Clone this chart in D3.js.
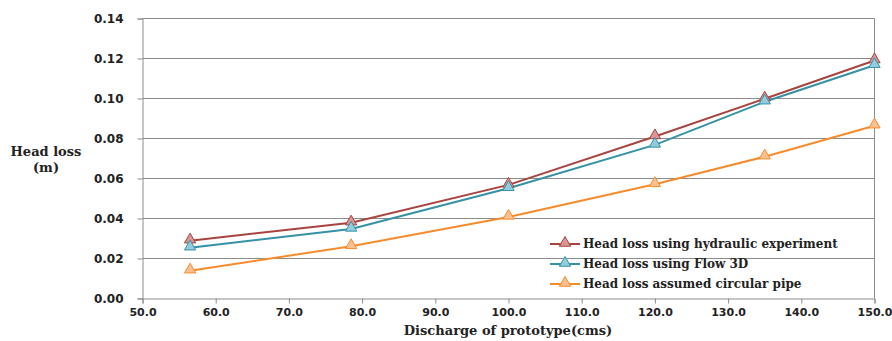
<!DOCTYPE html>
<html><head><meta charset="utf-8">
<script src="https://cdn.jsdelivr.net/npm/d3@7"></script>
<style>body{margin:0;background:#fff}svg{display:block}</style>
</head><body>
<svg id="c" width="892" height="341"></svg>
<script>
const discharge = [56.5, 78.5, 100.0, 120.0, 135.0, 150.0];
const hydraulic = [0.0289, 0.0379, 0.0568, 0.0810, 0.0999, 0.1190];
const flow3d = [0.0254, 0.0348, 0.0551, 0.0768, 0.0984, 0.1166];
const circular = [0.0139, 0.0261, 0.0408, 0.0571, 0.0709, 0.0864];
const seriesNames = ["Head loss using hydraulic experiment", "Head loss using Flow 3D", "Head loss assumed circular pipe"];
const xTicks = [50,60,70,80,90,100,110,120,130,140,150];
const yTicks = [0,0.02,0.04,0.06,0.08,0.10,0.12,0.14];

const series = [
  {name: seriesNames[0], values: hydraulic, line: "#A8433F", fill: "#D99694", stroke: "#A8433F"},
  {name: seriesNames[1], values: flow3d, line: "#3591A6", fill: "#93CDDD", stroke: "#3591A6"},
  {name: seriesNames[2], values: circular, line: "#F78B2C", fill: "#FAC08F", stroke: "#F78B2C"}
];

const svg = d3.select("#c");
const L = 142.5, R = 874.5, T = 18.5, B = 298.5;
const x = d3.scaleLinear().domain([50,150]).range([L,R]);
const y = d3.scaleLinear().domain([0,0.14]).range([B,T]);

svg.append("g").selectAll("line").data(yTicks.filter(d=>d>0)).join("line")
  .attr("x1",L).attr("x2",R).attr("y1",d=>y(d)).attr("y2",d=>y(d))
  .attr("stroke","#8c8c8c").attr("stroke-width",1);
svg.append("line").attr("x1",R).attr("x2",R).attr("y1",T).attr("y2",B).attr("stroke","#8c8c8c");

const fontTick = "'DejaVu Sans', sans-serif";
const yAxis = svg.append("g").attr("transform",`translate(${L},0)`)
  .call(d3.axisLeft(y).tickValues(yTicks).tickFormat(d3.format(".2f")).tickSize(5).tickPadding(14));
const xAxis = svg.append("g").attr("transform",`translate(0,${B})`)
  .call(d3.axisBottom(x).tickValues(xTicks).tickFormat(d3.format(".1f")).tickSize(5).tickPadding(5));
[yAxis,xAxis].forEach(a=>{
  a.select(".domain").attr("stroke","#8c8c8c");
  a.selectAll(".tick line").attr("stroke","#8c8c8c");
  a.selectAll("text").attr("font-family",fontTick).attr("font-weight","bold").attr("fill","#222");
});
yAxis.selectAll("text").attr("font-size","12px");
xAxis.selectAll("text").attr("font-size","11px");

const line = d3.line().x((d,i)=>x(discharge[i])).y(d=>y(d));
const tri = d3.symbol().type(d3.symbolTriangle).size(55);

series.forEach(s=>{
  svg.append("path").datum(s.values).attr("d",line).attr("fill","none")
    .attr("stroke",s.line).attr("stroke-width",2);
});
series.forEach(s=>{
  svg.append("g").selectAll("path").data(s.values).join("path")
    .attr("d",tri).attr("transform",(d,i)=>`translate(${x(discharge[i])},${y(d)-1})`)
    .attr("fill",s.fill).attr("stroke",s.stroke).attr("stroke-width",1);
});

const serif = "'DejaVu Serif', serif";
const lg = svg.append("g");
series.forEach((s,i)=>{
  const yy = 244 + i*20;
  lg.append("line").attr("x1",550).attr("x2",580).attr("y1",yy).attr("y2",yy).attr("stroke",s.line).attr("stroke-width",2);
  lg.append("path").attr("d",tri).attr("transform",`translate(565,${yy-1})`).attr("fill",s.fill).attr("stroke",s.stroke);
  lg.append("text").attr("x",583).attr("y",yy+4).text(s.name)
    .attr("font-family",serif).attr("font-weight","bold").attr("font-size","12px").attr("fill","#222");
});

svg.append("text").attr("x",508).attr("y",335).attr("text-anchor","middle").text("Discharge of prototype(cms)")
  .attr("font-family",serif).attr("font-weight","bold").attr("font-size","13px").attr("fill","#222");
svg.append("text").attr("x",46).attr("y",156).attr("text-anchor","middle").text("Head loss")
  .attr("font-family",serif).attr("font-weight","bold").attr("font-size","13px").attr("fill","#222");
svg.append("text").attr("x",46).attr("y",172).attr("text-anchor","middle").text("(m)")
  .attr("font-family",serif).attr("font-weight","bold").attr("font-size","13px").attr("fill","#222");
</script>
</body></html>
